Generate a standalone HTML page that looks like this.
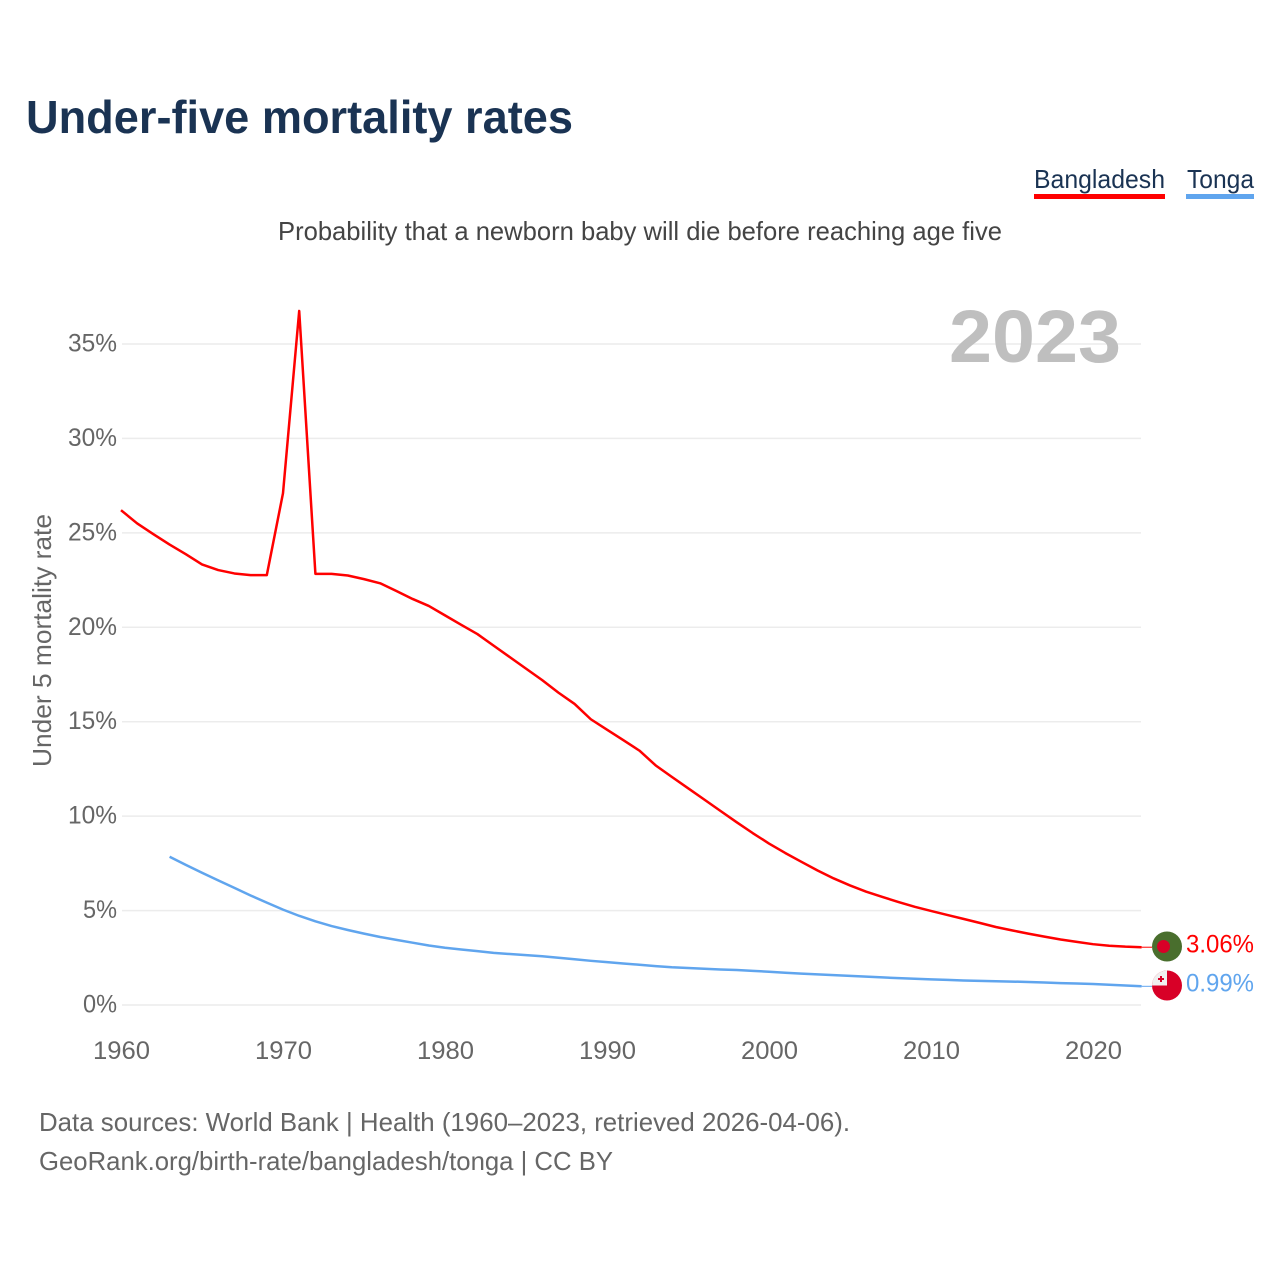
<!DOCTYPE html>
<html lang="en">
<head>
<meta charset="utf-8">
<title>Under-five mortality rates</title>
<style>
html,body{margin:0;padding:0;background:#fff;}
svg{display:block;font-family:"Liberation Sans",sans-serif;}
</style>
</head>
<body>
<svg id="chart" width="1280" height="1280" viewBox="0 0 1280 1280" xmlns="http://www.w3.org/2000/svg">
  <defs>
    <clipPath id="flag-clip-bd"><circle cx="1167" cy="946.5" r="15"/></clipPath>
    <clipPath id="flag-clip-to"><circle cx="1167" cy="985.5" r="15"/></clipPath>
  </defs>
  <rect x="0" y="0" width="1280" height="1280" fill="#fff"/>
  <text x="26" y="133" font-size="46" font-weight="700" fill="#1a3353" textLength="547" lengthAdjust="spacingAndGlyphs">Under-five mortality rates</text>
  <g>
    <text x="1034" y="188" font-size="26" fill="#1a3353" textLength="131" lengthAdjust="spacingAndGlyphs">Bangladesh</text>
    <rect x="1034" y="194" width="131" height="5" fill="#ff0000"/>
  </g>
  <g>
    <text x="1187" y="188" font-size="26" fill="#1a3353" textLength="67" lengthAdjust="spacingAndGlyphs">Tonga</text>
    <rect x="1186" y="194" width="68" height="5" fill="#60a5ee"/>
  </g>
  <text x="278" y="240" font-size="26" fill="#444" textLength="724" lengthAdjust="spacingAndGlyphs">Probability that a newborn baby will die before reaching age five</text>
  <g id="grid"></g>
  <text x="949" y="362" font-size="74" font-weight="700" fill="#bfbfbf" textLength="172" lengthAdjust="spacingAndGlyphs">2023</text>
  <text transform="translate(51,767) rotate(-90)" x="0" y="0" font-size="26" fill="#666" textLength="253" lengthAdjust="spacingAndGlyphs">Under 5 mortality rate</text>
  <g id="yticks"></g>
  <g id="xticks"></g>
  <g id="series"></g>
  <g>
    <circle cx="1167" cy="946.5" r="15" fill="#496e2d"/>
    <circle cx="1163.5" cy="946.5" r="6.5" fill="#d80027"/>
  </g>
  <g>
    <circle cx="1167" cy="985.5" r="15" fill="#d80027"/>
    <rect x="1152" y="970.5" width="15" height="15" fill="#f0f0f0" clip-path="url(#flag-clip-to)"/>
    <rect x="1160" y="976" width="2" height="6" fill="#d80027"/>
    <rect x="1158" y="978" width="6" height="2" fill="#d80027"/>
  </g>
  <text x="39" y="1131" font-size="26" fill="#666" textLength="811" lengthAdjust="spacingAndGlyphs">Data sources: World Bank | Health (1960–2023, retrieved 2026-04-06).</text>
  <text x="39" y="1170" font-size="26" fill="#666" textLength="574" lengthAdjust="spacingAndGlyphs">GeoRank.org/birth-rate/bangladesh/tonga | CC BY</text>
</svg>
<script>
const firstYear = 1960;
const yTickValues = [0, 5, 10, 15, 20, 25, 30, 35];
const yTickLabels = ['0%', '5%', '10%', '15%', '20%', '25%', '30%', '35%'];
const xTickYears = [1960, 1970, 1980, 1990, 2000, 2010, 2020];
const bangladeshValues = [
  26.2, 25.5, 24.93, 24.38, 23.87, 23.33, 23.03, 22.85, 22.76, 22.76,
  27.1, 36.75, 22.83, 22.83, 22.74, 22.55, 22.33, 21.92, 21.5, 21.13,
  20.63, 20.13, 19.64, 19.03, 18.42, 17.81, 17.2, 16.54, 15.94, 15.13,
  14.58, 14.03, 13.47, 12.69, 12.08, 11.48, 10.88, 10.28, 9.68, 9.1,
  8.55, 8.05, 7.58, 7.12, 6.7, 6.33, 6.0, 5.72, 5.45, 5.2,
  4.98, 4.77, 4.56, 4.35, 4.13, 3.95, 3.78, 3.62, 3.47, 3.34,
  3.22, 3.14, 3.09, 3.06
];
const tongaFirstYear = 1963;
const tongaValues = [
  7.85, 7.42, 7.0, 6.6, 6.2, 5.8, 5.42, 5.05,
  4.72, 4.43, 4.18, 3.97, 3.78, 3.6, 3.45, 3.3, 3.15, 3.03,
  2.94, 2.85, 2.76, 2.7, 2.64, 2.58, 2.5, 2.42, 2.34, 2.27,
  2.2, 2.13, 2.06, 2.0, 1.96, 1.92, 1.88, 1.85, 1.81, 1.76,
  1.71, 1.66, 1.62, 1.58, 1.54, 1.5, 1.46, 1.42, 1.39, 1.36,
  1.33, 1.3, 1.28, 1.26, 1.24, 1.22, 1.19, 1.16, 1.14, 1.11,
  1.07, 1.03, 0.99
];
const bangladeshLabel = '3.06%';
const tongaLabel = '0.99%';

const NS = 'http://www.w3.org/2000/svg';
function xScale(year) { return 121 + (year - 1960) * 16.2; }
function yScale(v) { return 1005 - v * 18.886; }
function make(tag, attrs, parent) {
  const el = document.createElementNS(NS, tag);
  for (const k in attrs) el.setAttribute(k, attrs[k]);
  parent.appendChild(el);
  return el;
}
const grid = document.getElementById('grid');
const yticks = document.getElementById('yticks');
const xticks = document.getElementById('xticks');
const series = document.getElementById('series');

yTickValues.forEach(function (v, i) {
  const line = make('line', {x1: 122, x2: 1141, y1: yScale(v), y2: yScale(v), stroke: '#ececec', 'stroke-width': 1.5}, grid);
  
  
  const label = make('text', {x: 117, y: yScale(v) + 7.5, 'text-anchor': 'end', 'font-size': 25, fill: '#666', textLength: yTickLabels[i].length === 2 ? 34 : 49, lengthAdjust: 'spacingAndGlyphs'}, yticks);
  label.textContent = yTickLabels[i];
  
  
});

xTickYears.forEach(function (yr) {
  const label = make('text', {x: xScale(yr) + 0.5, y: 1059, 'text-anchor': 'middle', 'font-size': 25, fill: '#666', textLength: 57, lengthAdjust: 'spacingAndGlyphs'}, xticks);
  label.textContent = String(yr);
  
  
});

function pathFrom(values, startYear) {
  return values.map(function (v, i) {
    return (i ? 'L' : 'M') + xScale(startYear + i).toFixed(2) + ' ' + yScale(v).toFixed(2);
  }).join(' ');
}

const lastBd = bangladeshValues[bangladeshValues.length - 1];
const lastTo = tongaValues[tongaValues.length - 1];
const lastX = xScale(firstYear + bangladeshValues.length - 1);

const connBd = make('line', {x1: lastX, x2: 1152, y1: yScale(lastBd), y2: yScale(lastBd), stroke: '#ff0000', 'stroke-width': 1}, series);


const connTo = make('line', {x1: lastX, x2: 1152, y1: yScale(lastTo), y2: yScale(lastTo), stroke: '#60a5ee', 'stroke-width': 1}, series);



const lineTo = make('path', {d: pathFrom(tongaValues, tongaFirstYear), fill: 'none', stroke: '#60a5ee', 'stroke-width': 2.5, 'stroke-linejoin': 'round'}, series);


const lineBd = make('path', {d: pathFrom(bangladeshValues, firstYear), fill: 'none', stroke: '#ff0000', 'stroke-width': 2.5, 'stroke-linejoin': 'round'}, series);



const valBd = make('text', {x: 1186, y: yScale(lastBd) + 5.5, 'font-size': 25, fill: '#ff0000', textLength: 68, lengthAdjust: 'spacingAndGlyphs'}, series);
valBd.textContent = bangladeshLabel;


const valTo = make('text', {x: 1186, y: yScale(lastTo) + 5, 'font-size': 25, fill: '#60a5ee', textLength: 68, lengthAdjust: 'spacingAndGlyphs'}, series);
valTo.textContent = tongaLabel;


</script>
</body>
</html>
